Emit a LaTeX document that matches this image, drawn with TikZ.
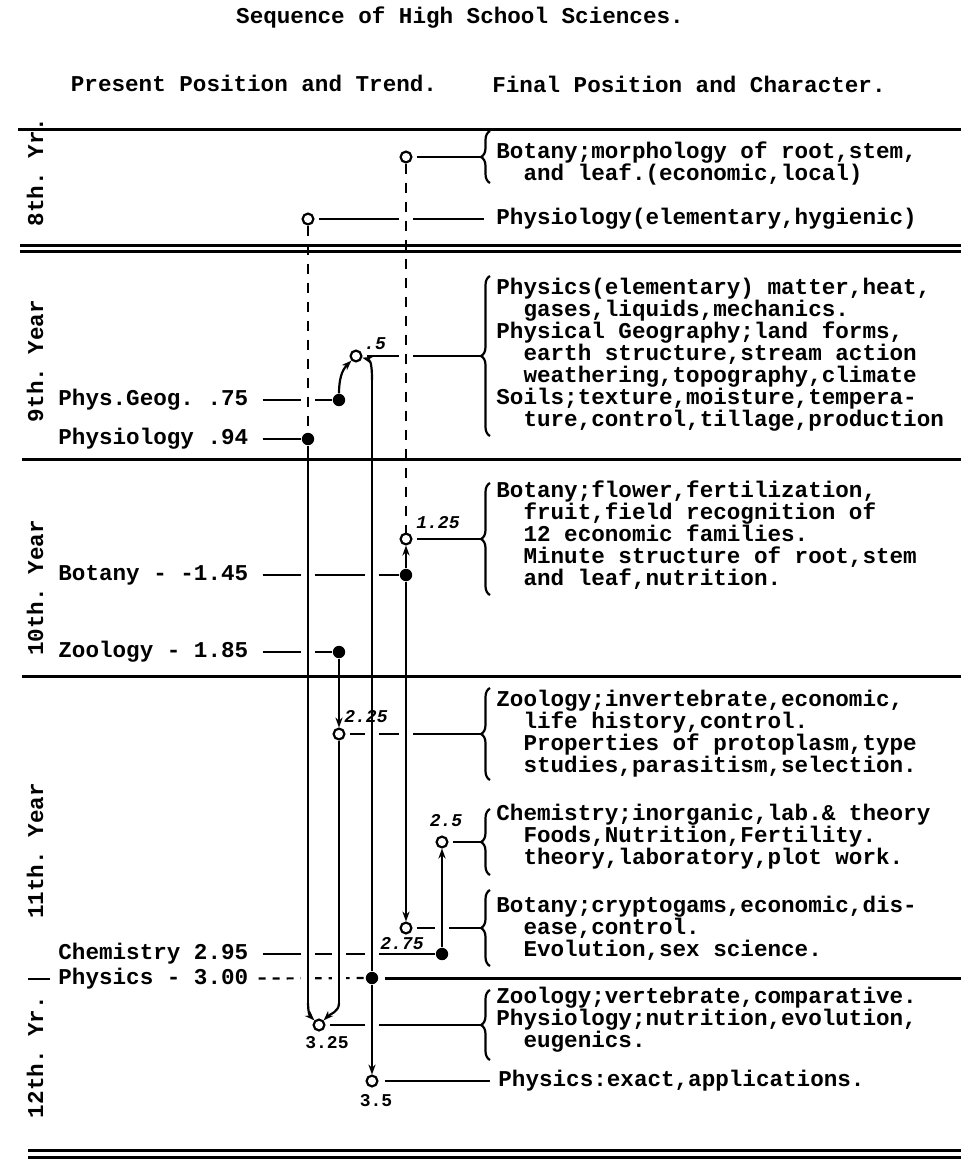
\documentclass[tikz,border=0pt]{standalone}
\usepackage{fontspec}
\newfontfamily\tw{Liberation Mono}
\usetikzlibrary{math,arrows.meta,decorations.pathreplacing}
\pgfdeclarelayer{lead}
\pgfdeclarelayer{vert}
\pgfsetlayers{lead,vert,main}
\newcommand\twfont{\tw\bfseries\fontsize{11.3pt}{11pt}\selectfont\frenchspacing}
\newcommand\numfont{\tw\bfseries\fontsize{9pt}{9pt}\selectfont}
\newcommand\ind{\hspace*{1.2em}}

\begin{document}
\begin{tikzpicture}[x=0.5pt, y=-0.5pt,
  txt/.style={font=\twfont, align=left, anchor=west, inner sep=0pt},
  lbl/.style={font=\twfont, anchor=west, inner sep=0pt},
  yr/.style={font=\twfont, rotate=90, inner sep=0pt},
  num/.style={font=\numfont, inner sep=0pt},
  numi/.style={font=\numfont\itshape, inner sep=0pt},
  odot/.style={circle, draw, fill=white, line width=1.1pt, inner sep=0pt, minimum size=5.4pt},
  fdot/.style={circle, fill, inner sep=0pt, minimum size=6.2pt},
  lead/.style={line width=1.1pt},
  vline/.style={line width=1.1pt, preaction={draw=white, line width=7pt, solid, arrows=-}},
  dline/.style={vline, dash pattern=on 5pt off 4.5pt},
  arr/.style={-{Stealth[length=5pt, width=3.6pt]}, line width=1.1pt},
  brc/.style={decorate, decoration={brace, amplitude=4.5pt}, line width=1.1pt},
  sep/.style={line width=1.5pt}]
  \tikzmath{%
    \xph = 308; \xzo = 339; \xpy = 372; \xbo = 406; \xch = 442;
    \xk = 481; \xb = 490; \xt = 496; \xl = 58; \xr = 970;
  }
  \useasboundingbox (0,0) rectangle (960,1169);

  \node[font=\twfont] (title) at (460,18) {Sequence of High School Sciences.};
  \node[font=\twfont] (hpres) at (254,83) {Present Position and Trend.};
  \node[font=\twfont] (hfin) at (689,84) {Final Position and Character.};

  \node[yr] (y8) at (35,172) {8th. Yr.};
  \node[yr] (y9) at (35,361) {9th. Year};
  \node[yr] (y10) at (35,588) {10th. Year};
  \node[yr] (y11) at (35,851) {11th. Year};
  \node[yr] (y12) at (35,1057) {12th. Yr.};

  \node[odot] (bo8) at (\xbo,157) {};
  \node[odot] (ph8) at (\xph,219) {};
  \node[odot] (gp5) at (356,356) {};
  \node[fdot] (pg9) at (\xzo,400) {};
  \node[fdot] (ph9) at (\xph,439) {};
  \node[odot] (bo125) at (\xbo,539) {};
  \node[fdot] (bo145) at (\xbo,575) {};
  \node[fdot] (zo185) at (\xzo,652) {};
  \node[odot] (zo225) at (\xzo,734) {};
  \node[odot] (ch25) at (\xch,842) {};
  \node[odot] (bo275) at (\xbo,928) {};
  \node[fdot] (ch295) at (\xch,954) {};
  \node[fdot] (py300) at (\xpy,978) {};
  \node[odot] (ph325) at (319,1025) {};
  \node[odot] (py35) at (\xpy,1081) {};

  \node[numi] (n5) at (375,344) {.5};
  \node[numi] (n125) at (438,523) {1.25};
  \node[numi] (n225) at (366,717) {2.25};
  \node[numi] (n25) at (446,821) {2.5};
  \node[numi] (n275) at (402,944) {2.75};
  \node[num] (n325) at (327,1043) {3.25};
  \node[num] (n35) at (376,1101) {3.5};

  \node[lbl] (pglab) at (\xl,400) {Phys.Geog. .75};
  \node[lbl] (phlab) at (\xl,439) {Physiology .94};
  \node[lbl] (bolab) at (\xl,575) {Botany - -1.45};
  \node[lbl] (zolab) at (\xl,652) {Zoology - 1.85};
  \node[lbl] (chlab) at (\xl,954) {Chemistry 2.95};
  \node[lbl] (pylab) at (\xl,979) {Physics - 3.00};
  \coordinate (pyl) at (28,979);

  \node[txt] (d8a) at (\xt,163) {Botany;morphology of root,stem,\\\ind and leaf.(economic,local)};
  \node[txt] (d8b) at (\xt,219) {Physiology(elementary,hygienic)};
  \node[txt] (d9) at (\xt,355) {Physics(elementary) matter,heat,\\\ind gases,liquids,mechanics.\\Physical Geography;land forms,\\\ind earth structure,stream action\\\ind weathering,topography,climate\\Soils;texture,moisture,tempera-\\\ind ture,control,tillage,production};
  \node[txt] (d10) at (\xt,535) {Botany;flower,fertilization,\\\ind fruit,field recognition of\\\ind 12 economic families.\\\ind Minute structure of root,stem\\\ind and leaf,nutrition.};
  \node[txt] (d11a) at (\xt,734) {Zoology;invertebrate,economic,\\\ind life history,control.\\\ind Properties of protoplasm,type\\\ind studies,parasitism,selection.};
  \node[txt] (d11b) at (\xt,837) {Chemistry;inorganic,lab.\& theory\\\ind Foods,Nutrition,Fertility.\\\ind theory,laboratory,plot work.};
  \node[txt] (d11c) at (\xt,928) {Botany;cryptogams,economic,dis-\\\ind ease,control.\\\ind Evolution,sex science.};
  \node[txt] (d12a) at (\xt,1020) {Zoology;vertebrate,comparative.\\Physiology;nutrition,evolution,\\\ind eugenics.};
  \node[txt] (d12b) at (498,1081) {Physics:exact,applications.};

  \coordinate (k8) at (\xk,157);
  \coordinate (k9) at (\xk,356);
  \coordinate (k10) at (\xk,539);
  \coordinate (k11a) at (\xk,734);
  \coordinate (k11b) at (\xk,842);
  \coordinate (k11c) at (\xk,928);
  \coordinate (k12) at (\xk,1025);
  \draw[brc] (\xb,183) -- (\xb,131);
  \draw[brc] (\xb,436) -- (\xb,276);
  \draw[brc] (\xb,595) -- (\xb,483);
  \draw[brc] (\xb,780) -- (\xb,688);
  \draw[brc] (\xb,875) -- (\xb,809);
  \draw[brc] (\xb,966) -- (\xb,890);
  \draw[brc] (\xb,1060) -- (\xb,990);

  \begin{pgfonlayer}{lead}
    \draw[lead, shorten <=2pt] (bo8) -- (k8);
    \draw[lead, shorten <=2pt, shorten >=6pt] (ph8) -- (d8b);
    \draw[lead, shorten <=2pt] (gp5) -- (k9);
    \draw[lead, shorten <=2pt] (bo125) -- (k10);
    \draw[lead, shorten <=2pt] (zo225) -- (k11a);
    \draw[lead, shorten <=2pt] (ch25) -- (k11b);
    \draw[lead, shorten <=2pt] (bo275) -- (k11c);
    \draw[lead, shorten <=2pt] (ph325) -- (k12);
    \draw[lead, shorten <=3pt, shorten >=4pt] (py35) -- (d12b);
    \draw[lead, shorten <=7pt] (pglab) -- (pg9);
    \draw[lead, shorten <=7pt] (phlab) -- (ph9);
    \draw[lead, shorten <=7pt] (bolab) -- (bo145);
    \draw[lead, shorten <=7pt] (zolab) -- (zo185);
    \draw[lead, shorten <=7pt] (chlab) -- (ch295);
    \draw[lead, shorten <=5pt, dash pattern=on 3.5pt off 3.5pt] (pylab) -- (py300);
    \draw[lead, shorten >=4pt] (pyl) -- (pylab);
  \end{pgfonlayer}

  \begin{pgfonlayer}{vert}
    \coordinate (phbend) at (\xph,1003);
    \coordinate (zobend) at (\xzo,1003);
    \coordinate (pybend) at (\xpy,380);
    \draw[dline] (bo8) -- (bo125);
    \draw[dline] (ph8) -- (ph9);
    \draw[vline] (ph9) -- (phbend);
    \draw[arr] (phbend) to[out=-90, in=135] (ph325);
    \draw[vline] (zo225) -- (zobend);
    \draw[arr] (zobend) to[out=-90, in=45] (ph325);
    \draw[vline] (py300) -- (pybend);
    \draw[arr] (pybend) to[out=90, in=-15] (gp5);
    \draw[vline, arr] (py300) -- (py35);
    \draw[arr] (pg9) to[out=90, in=-135] (gp5);
    \draw[vline, arr] (bo145) -- (bo125);
    \draw[vline, arr] (bo145) -- (bo275);
    \draw[vline, arr] (zo185) -- (zo225);
    \draw[vline, arr] (ch295) -- (ch25);

    \draw[sep] (18,129) -- (\xr,129);
    \draw[sep] (20,245) -- (\xr,245);
    \draw[sep] (20,251) -- (\xr,251);
    \draw[sep] (22,459) -- (\xr,459);
    \draw[sep] (22,676) -- (\xr,676);
    \draw[sep, shorten <=3pt] (py300) -- (\xr,978);
    \draw[sep] (28,1150) -- (\xr,1150);
    \draw[sep] (28,1157) -- (\xr,1157);
  \end{pgfonlayer}
\end{tikzpicture}
\end{document}
